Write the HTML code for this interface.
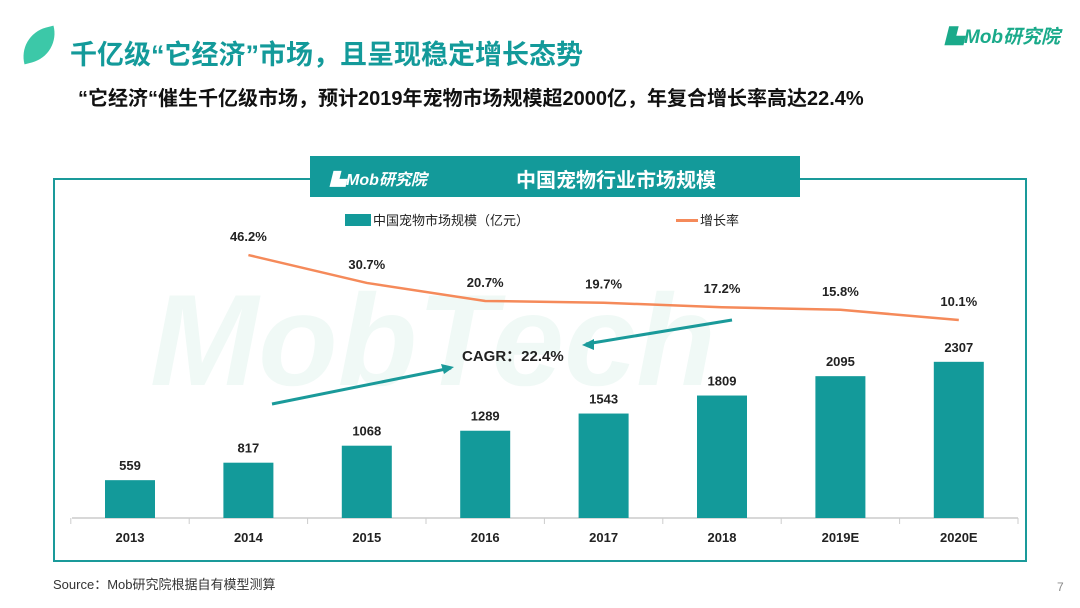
<!DOCTYPE html>
<html><head><meta charset="utf-8"><style>
body{margin:0;width:1080px;height:608px;background:#fff;position:relative;overflow:hidden;font-family:"Liberation Sans","Noto Sans CJK SC",sans-serif}
.abs{position:absolute}
</style></head><body>
<div class="abs" style="left:20px;top:30px;width:38px;height:30px;background:#3cc8a8;border-radius:30px 0 30px 0;transform:rotate(-15deg)"></div>
<div class="abs" style="left:70px;top:33px;font-size:27px;font-weight:bold;color:#139a9a;white-space:nowrap">千亿级“它经济”市场，且呈现稳定增长态势</div>
<div class="abs" style="left:945px;top:22px;font-size:19px;font-weight:bold;font-style:italic;color:#1aaa8a;white-space:nowrap">▙Mob研究院</div>
<div class="abs" style="left:78px;top:82px;font-size:20px;font-weight:bold;color:#111;white-space:nowrap">“它经济“催生千亿级市场，预计2019年宠物市场规模超2000亿，年复合增长率高达22.4%</div>
<div class="abs" style="left:53px;top:178px;width:970px;height:380px;border:2px solid #1a9a9a"></div>
<div class="abs" style="left:310px;top:156px;width:490px;height:41px;background:#139a9a"></div>
<div class="abs" style="left:330px;top:166px;font-size:16px;font-weight:bold;font-style:italic;color:#fff">▙Mob研究院</div>
<div class="abs" style="left:516px;top:164px;font-size:20px;font-weight:bold;color:#fff">中国宠物行业市场规模</div>
<div class="abs" style="left:53px;top:574px;font-size:13px;color:#333">Source：Mob研究院根据自有模型测算</div>
<div class="abs" style="left:1057px;top:580px;font-size:12px;color:#888">7</div>
<svg class="abs" style="left:0;top:0" width="1080" height="608" id="chart">
<text x="150" y="385" font-size="130" font-weight="bold" font-style="italic" fill="#f0f9f6">MobTech</text>
<rect x="345" y="214" width="26" height="12" fill="#139a9a"/>
<text x="373" y="225" font-size="13" fill="#222">中国宠物市场规模（亿元）</text>
<rect x="676" y="219" width="22" height="3" fill="#f58a5a"/>
<text x="700" y="225" font-size="13" fill="#222">增长率</text>
<line x1="72" y1="518" x2="1018" y2="518" stroke="#ccc" stroke-width="1.5"/>
<line x1="272" y1="404" x2="451" y2="368" stroke="#1a9a9a" stroke-width="3"/>
<polygon points="454,367 441,364 444,374" fill="#1a9a9a"/>
<line x1="732" y1="320" x2="586" y2="344" stroke="#1a9a9a" stroke-width="3"/>
<polygon points="582,345 594,339 594,350" fill="#1a9a9a"/>
<text x="462" y="361" font-size="15" font-weight="bold" fill="#222">CAGR：22.4%</text>
</svg>
<script>
const categories=["2013","2014","2015","2016","2017","2018","2019E","2020E"];
const marketSize=[559,817,1068,1289,1543,1809,2095,2307];
const growthRate=[null,46.2,30.7,20.7,19.7,17.2,15.8,10.1];
const svg=document.getElementById('chart');
const NS='http://www.w3.org/2000/svg';
const x0=130, step=118.4, base=518;
const xs=i=>x0+i*step;
const yb=v=>base-v*0.0677;
const yl=v=>338.2-v*1.8;
function mk(t,a){const e=document.createElementNS(NS,t);for(const k in a)e.setAttribute(k,a[k]);svg.appendChild(e);return e;}
for(let i=0;i<=categories.length;i++){
 const t=mk('line',{x1:xs(i)-step/2,y1:base,x2:xs(i)-step/2,y2:base+6,stroke:'#ccc'});
 
 
}
categories.forEach((c,i)=>{
 const r=mk('rect',{x:xs(i)-25,y:yb(marketSize[i]),width:50,height:base-yb(marketSize[i]),fill:'#139a9a'});
 
 
 const v=mk('text',{x:xs(i),y:yb(marketSize[i])-10,'text-anchor':'middle','font-size':13,'font-weight':'bold',fill:'#222'});
 v.textContent=marketSize[i];
 
 
 const l=mk('text',{x:xs(i),y:542,'text-anchor':'middle','font-size':13,'font-weight':'bold',fill:'#222'});
 l.textContent=c;
 
 
});
let pts=[];
growthRate.forEach((g,i)=>{if(g!==null)pts.push(xs(i)+','+yl(g));});
const pl=mk('polyline',{points:pts.join(' '),fill:'none',stroke:'#f58a5a','stroke-width':2.5});


growthRate.forEach((g,i)=>{if(g===null)return;
 const t=mk('text',{x:xs(i),y:yl(g)-14,'text-anchor':'middle','font-size':13,'font-weight':'bold',fill:'#222'});
 t.textContent=g.toFixed(1)+'%';
 
 
});
</script>
</body></html>
